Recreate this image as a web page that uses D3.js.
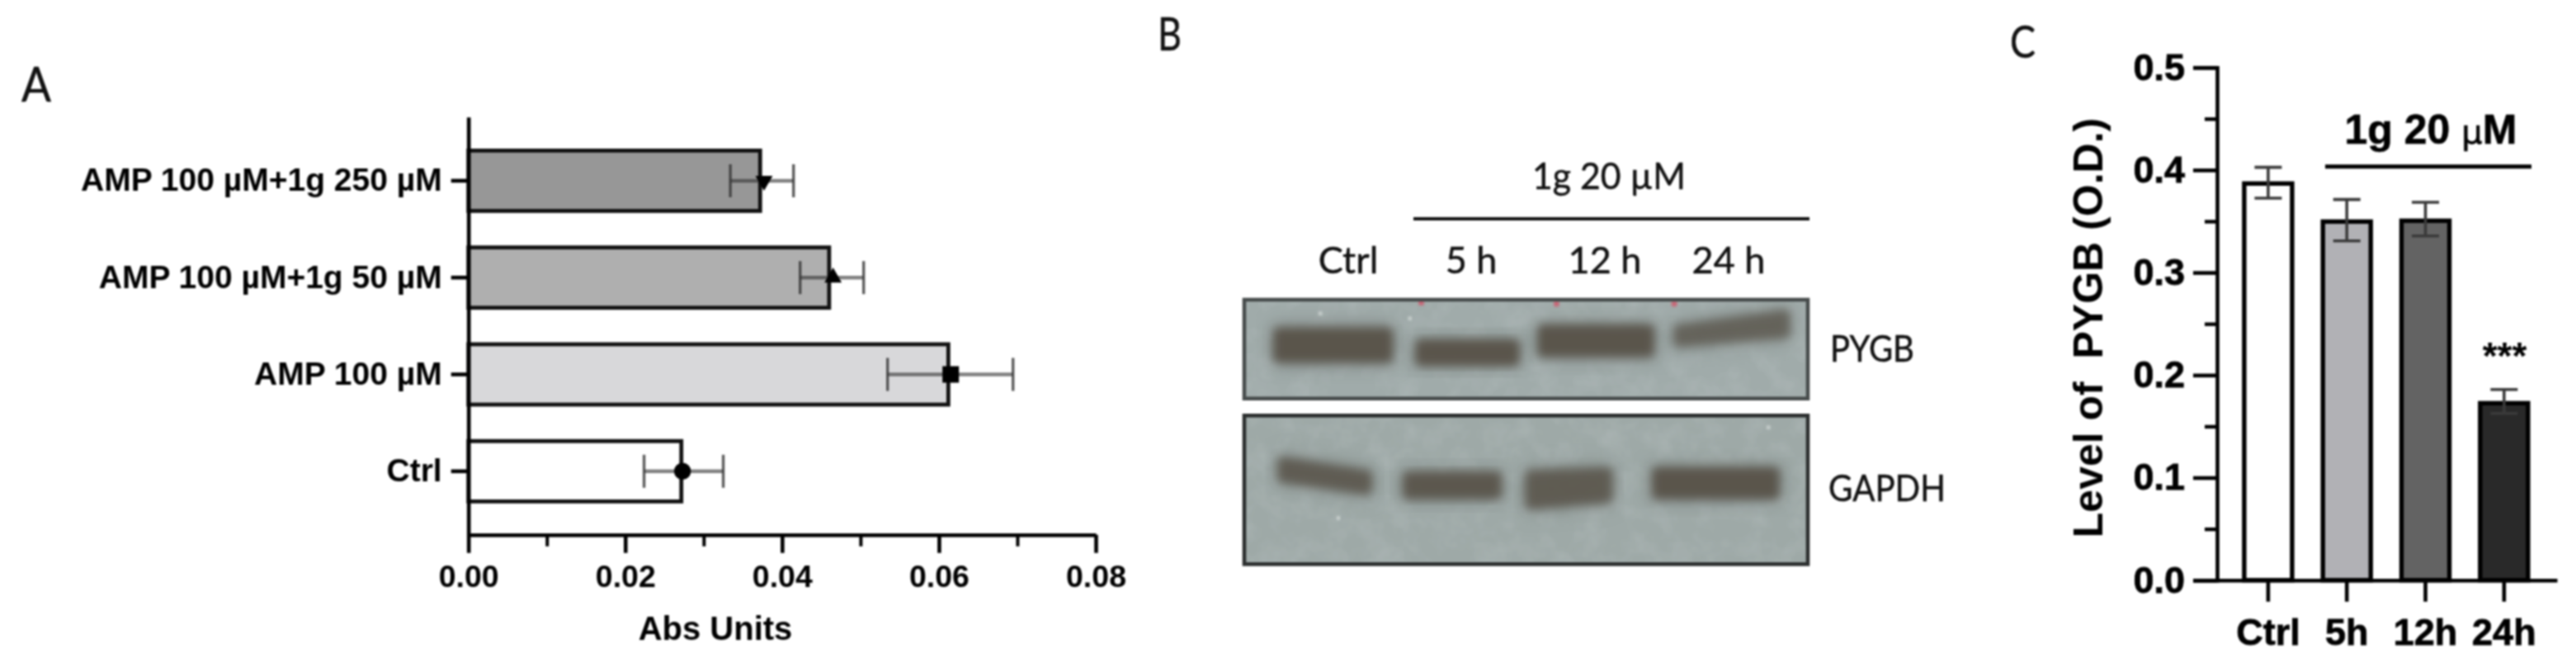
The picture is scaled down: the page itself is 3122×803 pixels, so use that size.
<!DOCTYPE html>
<html><head><meta charset="utf-8">
<script src="https://cdn.jsdelivr.net/npm/d3@7"></script>
<style>
html,body{margin:0;padding:0;background:#fff;overflow:hidden}
svg{display:block;filter:blur(0.8px)}
.bold{font-family:"Liberation Sans",Arial,sans-serif;font-weight:700;fill:#000}
.cal{font-family:Lato,"Open Sans",sans-serif;fill:#111;stroke:#111;stroke-width:.5}
</style></head><body>
<svg id="fig" width="3122" height="803" xmlns="http://www.w3.org/2000/svg"></svg>
<script>
// Panel A
const absCategories = ["Ctrl","AMP 100 µM","AMP 100 µM+1g 50 µM","AMP 100 µM+1g 250 µM"];
const absMeans = [0.02715,0.0612,0.0460,0.0372];
const absErrLow = [0.0224,0.05345,0.0423,0.0334];
const absErrHigh = [0.0325,0.06945,0.0504,0.04146];
const absPoints = [0.0273,0.0615,0.0465,0.0377];
const absFills = ["#ffffff","#d8d8da","#afafaf","#979797"];
const absMarkers = ["circle","square","up","down"];
const absMajorTicks = [0,0.02,0.04,0.06,0.08];
const absMinorTicks = [0.01,0.03,0.05,0.07];
// Panel B (band extents in percent of gel width / height)
const laneLabels = ["Ctrl","5 h","12 h","24 h"];
const pygbLanes = [[6,25.5,33,59,33,59,1],[31.2,48,45,62,45,62,1],[52.9,71.9,30,53,30,53,1],[77,96,30,43,15,34,.78]];
const gapdhLanes = [[6.8,21.8,31,42,40,50,.88],[29,44.8,41,53,41,53,.95],[50.7,64.5,40,60,38,55.5,.88],[73.2,94.1,38,53,38,53,1]];
const pygbSpecks = [[29.4,19],[13.5,14]];
const pygbRed = [[31.4,3],[55.4,4],[76.3,4]];
const gapdhSpecks = [[16.7,69],[93,8]];
// Panel C
const odCategories = ["Ctrl","5h","12h","24h"];
const odMeans = [0.3868,0.3497,0.3505,0.1726];
const odErrLow = [0.3725,0.3309,0.3357,0.1626];
const odErrHigh = [0.4026,0.3712,0.3685,0.186];
const odFills = ["#ffffff","#b1b1b5","#636363","#292929"];
const odMajorTicks = [0,0.1,0.2,0.3,0.4,0.5];
const odMinorTicks = [0.05,0.15,0.25,0.35,0.45];

const svg = d3.select("#fig");
const defs = svg.append("defs");
defs.append("filter").attr("id","bandBlur").attr("x","-20%").attr("y","-60%").attr("width","140%").attr("height","220%")
  .append("feGaussianBlur").attr("stdDeviation",6);
defs.append("filter").attr("id","haloBlur").attr("x","-20%").attr("y","-100%").attr("width","140%").attr("height","300%")
  .append("feGaussianBlur").attr("stdDeviation",12);
defs.append("filter").attr("id","speckBlur").append("feGaussianBlur").attr("stdDeviation",1.4);
const noise = defs.append("filter").attr("id","gelNoise").attr("x","0").attr("y","0").attr("width","100%").attr("height","100%");
noise.append("feTurbulence").attr("type","fractalNoise").attr("baseFrequency","0.035").attr("numOctaves",3).attr("seed",7).attr("result","n");
noise.append("feColorMatrix").attr("in","n").attr("type","matrix")
  .attr("values","0 0 0 0 0.45  0 0 0 0 0.5  0 0 0 0 0.5  0.9 0 0 0 -0.36").attr("result","m");
noise.append("feComposite").attr("in","m").attr("in2","SourceGraphic").attr("operator","over");

function styleAxis(g,w){
  g.selectAll("path,line").attr("stroke","#000").attr("stroke-width",w).attr("stroke-linecap","butt");
}
function text(x,y,s,cls,size,anchor,len){
  const t = svg.append("text").attr("x",x).attr("y",y).attr("class",cls).attr("font-size",size)
    .attr("text-anchor",anchor||"start").text(s);
  if(len) t.attr("textLength",len).attr("lengthAdjust","spacingAndGlyphs");
  return t;
}

/* ---------- Panel A ---------- */
text(26,123,"A","cal",58,"start",36);
const ax = d3.scaleLinear().domain([0,0.08]).range([567.7,1328]);
const ay = d3.scaleBand().domain(absCategories).range([648,141.7]).paddingInner(.377).paddingOuter(.347).align(.5);
const absData = absCategories.map((c,i)=>({c,m:absMeans[i],lo:absErrLow[i],hi:absErrHigh[i],p:absPoints[i],f:absFills[i],k:absMarkers[i]}));

const aBars = svg.append("g");
aBars.selectAll("rect").data(absData).join("rect")
  .attr("x",ax(0)).attr("y",d=>ay(d.c)).attr("width",d=>ax(d.m)-ax(0)).attr("height",ay.bandwidth())
  .attr("fill",d=>d.f).attr("stroke","#111").attr("stroke-width",4.8);

const aErr = svg.append("g").attr("stroke","#333");
absData.forEach(d=>{
  const cy = ay(d.c)+ay.bandwidth()/2;
  aErr.append("line").attr("x1",ax(d.lo)).attr("x2",ax(d.hi)).attr("y1",cy).attr("y2",cy).attr("stroke-width",4.4).attr("stroke-opacity",.62);
  [d.lo,d.hi].forEach(v=>aErr.append("line").attr("x1",ax(v)).attr("x2",ax(v)).attr("y1",cy-20).attr("y2",cy+20).attr("stroke-width",3.4).attr("stroke-opacity",.8));
});
const symbolFor = {circle:[d3.symbolCircle,330,0],square:[d3.symbolSquare,400,0],up:[d3.symbolTriangle,190,0],down:[d3.symbolTriangle,190,180]};
svg.append("g").selectAll("path").data(absData).join("path")
  .attr("d",d=>d3.symbol().type(symbolFor[d.k][0]).size(symbolFor[d.k][1])())
  .attr("transform",d=>`translate(${ax(d.p)},${ay(d.c)+ay.bandwidth()/2}) rotate(${symbolFor[d.k][2]})`)
  .attr("fill","#000");

const aYg = svg.append("g").attr("transform",`translate(${ax(0)},0)`)
  .call(d3.axisLeft(ay).tickSize(21).tickSizeOuter(0).tickPadding(10));
styleAxis(aYg,4.6);
aYg.selectAll("text").attr("class","bold").attr("font-size",39).attr("font-family",null).attr("fill","#000").attr("dx",-1);

const aXMinor = svg.append("g").attr("transform",`translate(0,647.7)`)
  .call(d3.axisBottom(ax).tickValues(absMinorTicks).tickSize(14).tickFormat(""));
styleAxis(aXMinor,4); aXMinor.select(".domain").remove();
const aXg = svg.append("g").attr("transform",`translate(0,647.7)`)
  .call(d3.axisBottom(ax).tickValues(absMajorTicks).tickSize(22).tickSizeOuter(0).tickPadding(15).tickFormat(d3.format(".2f")));
styleAxis(aXg,4.6);
aXg.selectAll("text").attr("class","bold").attr("font-size",37.5).attr("font-family",null).attr("fill","#000");
text(867,775,"Abs Units","bold",40,"middle");

/* ---------- Panel B ---------- */
text(1403,61,"B","cal",56,"start",29);
const gelX = d3.scaleLinear().domain([0,100]).range([1508,2191]);
const gels = [
  {name:"PYGB",top:363,bottom:482.7,lanes:pygbLanes,specks:pygbSpecks,red:pygbRed,fill:"#a0abaa",frame:"#474c4c"},
  {name:"GAPDH",top:503.3,bottom:683.3,lanes:gapdhLanes,specks:gapdhSpecks,red:[],fill:"#9ea9a7",frame:"#2c2f2f"}
];
gels.forEach((gel,gi)=>{
  const gelY = d3.scaleLinear().domain([0,100]).range([gel.top,gel.bottom]);
  const clipId = "gelClip"+gi;
  defs.append("clipPath").attr("id",clipId).append("rect")
    .attr("x",gelX(0)).attr("y",gel.top).attr("width",gelX(100)-gelX(0)).attr("height",gel.bottom-gel.top);
  const g = svg.append("g");
  const inner = g.append("g").attr("clip-path",`url(#${clipId})`);
  inner.append("rect").attr("x",gelX(0)).attr("y",gel.top).attr("width",gelX(100)-gelX(0)).attr("height",gel.bottom-gel.top)
    .attr("fill",gel.fill).attr("filter","url(#gelNoise)");
  const area = d3.area().x(d=>gelX(d.x)).y0(d=>gelY(d.t)).y1(d=>gelY(d.b));
  const shape = l => area([{x:l[0],t:l[2],b:l[3]},{x:l[1],t:l[4],b:l[5]}]);
  inner.selectAll("path.halo").data(gel.lanes).join("path").attr("class","halo").attr("d",shape)
    .attr("fill","#6d7471").attr("stroke","#6d7471").attr("stroke-width",18).attr("stroke-linejoin","round").attr("opacity",d=>d[6]*.6).attr("filter","url(#haloBlur)");
  inner.selectAll("path.band").data(gel.lanes).join("path").attr("class","band").attr("d",shape)
    .attr("fill","#5a554c").attr("stroke","#5a554c").attr("stroke-width",12).attr("stroke-linejoin","round")
    .attr("opacity",d=>d[6]).attr("filter","url(#bandBlur)");
  inner.selectAll("circle.speck").data(gel.specks).join("circle").attr("class","speck")
    .attr("cx",d=>gelX(d[0])).attr("cy",d=>gelY(d[1])).attr("r",2.4).attr("fill","#dfe4e2").attr("opacity",.8).attr("filter","url(#speckBlur)");
  inner.selectAll("circle.red").data(gel.red).join("circle").attr("class","red")
    .attr("cx",d=>gelX(d[0])).attr("cy",d=>gelY(d[1])).attr("r",3.6).attr("fill","#d8475f").attr("opacity",.75).attr("filter","url(#speckBlur)");
  g.append("rect").attr("x",gelX(0)).attr("y",gel.top).attr("width",gelX(100)-gelX(0)).attr("height",gel.bottom-gel.top)
    .attr("fill","none").attr("stroke",gel.frame).attr("stroke-width",4.6);
});
const laneLabelX = [1634,1783,1945,2095];
laneLabels.forEach((l,i)=>text(laneLabelX[i],331,l,"cal",45,"middle"));
text(1950,229,"1g 20 µM","cal",45,"middle",186);
svg.append("line").attr("x1",1713).attr("x2",2193).attr("y1",265).attr("y2",265).attr("stroke","#111").attr("stroke-width",4);
text(2218,438,"PYGB","cal",44,"start",102);
text(2216,607,"GAPDH","cal",45,"start",142);

/* ---------- Panel C ---------- */
text(2436,70,"C","cal",55,"start",31);
const cy = d3.scaleLinear().domain([0,0.5]).range([702.7,81.7]);
const cx = d3.scaleBand().domain(odCategories).range([2658,3099]).paddingInner(.391).paddingOuter(.509).align(.638);
const odData = odCategories.map((c,i)=>({c,m:odMeans[i],lo:odErrLow[i],hi:odErrHigh[i],f:odFills[i]}));
svg.append("g").selectAll("rect").data(odData).join("rect")
  .attr("x",d=>cx(d.c)).attr("y",d=>cy(d.m)).attr("width",cx.bandwidth()).attr("height",d=>cy(0)-cy(d.m))
  .attr("fill",d=>d.f).attr("stroke","#000").attr("stroke-width",5.4);
const cErr = svg.append("g").attr("stroke","#3a3a3a");
odData.forEach(d=>{
  const mid = cx(d.c)+cx.bandwidth()/2;
  cErr.append("line").attr("x1",mid).attr("x2",mid).attr("y1",cy(d.lo)).attr("y2",cy(d.hi)).attr("stroke-width",3.6);
  [d.lo,d.hi].forEach(v=>cErr.append("line").attr("x1",mid-16.5).attr("x2",mid+16.5).attr("y1",cy(v)).attr("y2",cy(v)).attr("stroke-width",3.6));
});
const cYMinor = svg.append("g").attr("transform","translate(2687,0)")
  .call(d3.axisLeft(cy).tickValues(odMinorTicks).tickSize(15).tickFormat(""));
styleAxis(cYMinor,4.4); cYMinor.select(".domain").remove();
const cYg = svg.append("g").attr("transform","translate(2687,0)")
  .call(d3.axisLeft(cy).tickValues(odMajorTicks).tickSize(29).tickSizeOuter(29).tickPadding(10).tickFormat(d3.format(".1f")));
styleAxis(cYg,4.6);
cYg.selectAll("text").attr("class","bold").attr("font-size",45).attr("font-family",null).attr("fill","#000").attr("stroke","#000").attr("stroke-width",.8);
const cXg = svg.append("g").attr("transform",`translate(0,702.7)`)
  .call(d3.axisBottom(cx).tickSize(26).tickSizeOuter(0).tickPadding(20));
styleAxis(cXg,4.6);
cXg.selectAll("text").attr("class","bold").attr("font-size",45).attr("font-family",null).attr("fill","#000").attr("stroke","#000").attr("stroke-width",.8);
const t1 = text(2946,174,"1g 20 ","bold",50,"middle");
t1.append("tspan").attr("font-family","'DejaVu Sans'").attr("font-weight",400).attr("font-size",40).text("µ");
t1.append("tspan").text("M");
t1.attr("stroke","#000").attr("stroke-width",.6);
svg.append("line").attr("x1",2818).attr("x2",3068).attr("y1",201.7).attr("y2",201.7).attr("stroke","#000").attr("stroke-width",5);
text(3035.5,447,"***","bold",46,"middle").attr("fill","#222");
svg.append("text").attr("class","bold").attr("font-size",50).attr("text-anchor","middle")
  .attr("transform","translate(2548,397) rotate(-90)").text("Level of\u00a0\u00a0PYGB (O.D.)");
</script>
</body></html>
